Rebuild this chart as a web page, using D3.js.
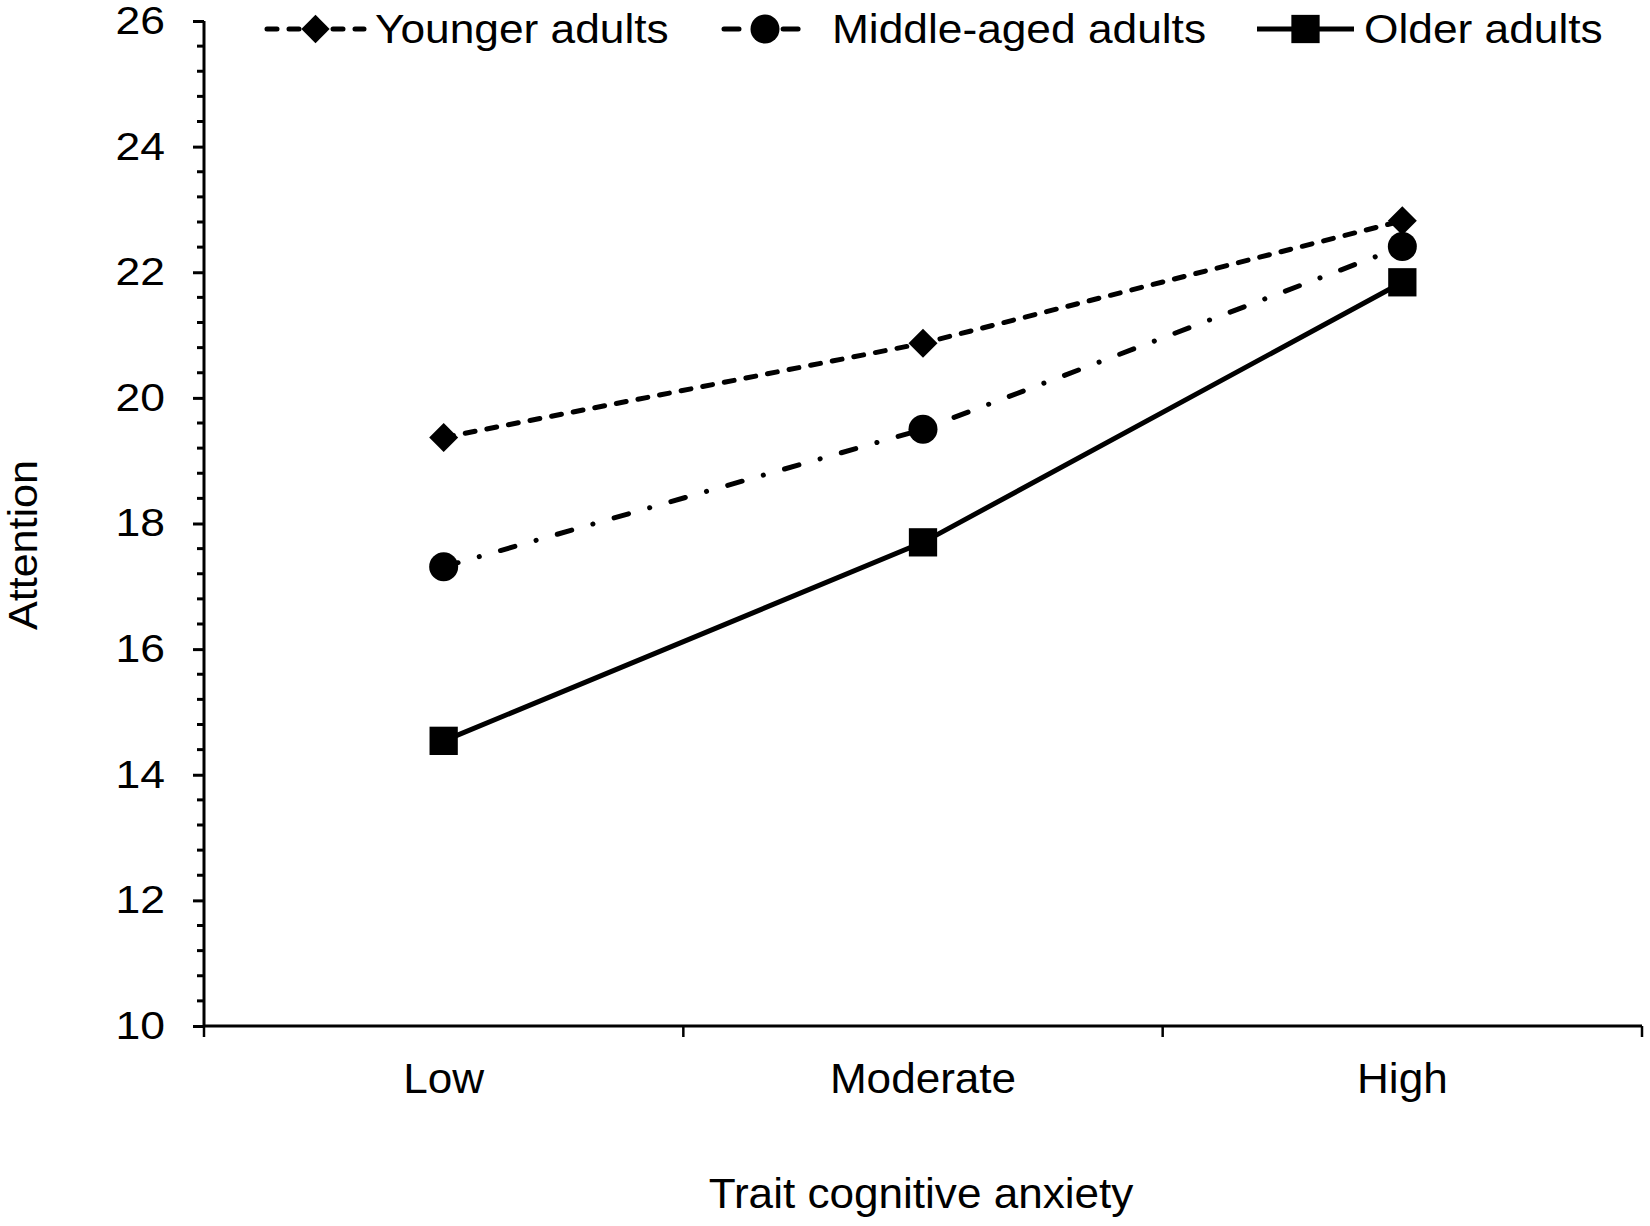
<!DOCTYPE html>
<html>
<head>
<meta charset="utf-8">
<script src="https://cdn.jsdelivr.net/npm/d3@7"></script>
<style>
  html, body { margin: 0; padding: 0; background: #fff; }
  text { font-family: "Liberation Sans", Arial, sans-serif; fill: #000; }
</style>
</head>
<body>
<div id="chart"></div>
<script>
// data
const categories = ['Low', 'Moderate', 'High']
const seriesNames = ['Younger adults', 'Middle-aged adults', 'Older adults']
const younger = [19.37, 20.87, 22.82]
const middleAged = [17.31, 19.50, 22.41]
const older = [14.54, 17.70, 21.84]
const yTicks = [10, 12, 14, 16, 18, 20, 22, 24, 26]

const w = 1650, h = 1226
const margin = { left: 204, right: 8, top: 21, bottom: 200 }
const width = w - margin.left - margin.right
const height = h - margin.top - margin.bottom

// the original lettering is a bit wider than Arial, so stretch it sideways
const tickStretch = 1.14
const labelStretch = 1.05
const legendStretch = 1.08

const series = [
  { name: seriesNames[0], values: younger, dash: '10,12', symbol: 'diamond' },
  { name: seriesNames[1], values: middleAged, dash: '15,22,0.1,22', symbol: 'circle' },
  { name: seriesNames[2], values: older, dash: null, symbol: 'square' }
]

const x = d3.scaleBand()
  .domain(categories)
  .range([0, width])
  .padding(0)

const y = d3.scaleLinear()
  .domain([10, 26])
  .range([height, 0])

const svg = d3.select('#chart').append('svg')
  .attr('width', w)
  .attr('height', h)

const chart = svg.append('g')
  .attr('transform', 'translate(' + margin.left + ',' + margin.top + ')')

// y axis: major ticks every 2, minor every 0.4
const yAxis = chart.append('g')
  .call(d3.axisLeft(y).tickValues(yTicks).tickSize(11).tickPadding(28).tickFormat(d3.format('d')))
yAxis.select('.domain').attr('stroke-width', 3).attr('d', 'M0,' + height + 'V0')
yAxis.selectAll('.tick line').attr('stroke-width', 3)
yAxis.selectAll('.tick text')
  .attr('font-size', 39)
  .attr('font-family', '"Liberation Sans", Arial, sans-serif')
  .attr('x', -39 / tickStretch)
  .attr('transform', 'scale(' + tickStretch + ',1)')

const minor = d3.range(10, 26.01, 0.4).filter(v => Math.abs(v / 2 - Math.round(v / 2)) > 0.01)
chart.append('g').selectAll('line')
  .data(minor)
  .enter()
  .append('line')
  .attr('x1', -7).attr('x2', 0)
  .attr('y1', d => y(d)).attr('y2', d => y(d))
  .attr('stroke', '#000')
  .attr('stroke-width', 3)

// x axis: ticks on category boundaries
const xAxis = chart.append('g')
  .attr('transform', 'translate(0,' + height + ')')
xAxis.append('path')
  .attr('d', 'M0,0H' + width)
  .attr('stroke', '#000')
  .attr('stroke-width', 3)
xAxis.selectAll('line')
  .data([0, 1, 2, 3])
  .enter()
  .append('line')
  .attr('x1', i => i < 3 ? x(categories[i]) : width)
  .attr('x2', i => i < 3 ? x(categories[i]) : width)
  .attr('y1', 0).attr('y2', 11)
  .attr('stroke', '#000')
  .attr('stroke-width', 2.5)
xAxis.selectAll('g.cat')
  .data(categories)
  .enter()
  .append('g')
  .attr('class', 'cat')
  .attr('transform', d => 'translate(' + (x(d) + x.bandwidth() / 2) + ',67) scale(' + labelStretch + ',1)')
  .append('text')
  .attr('text-anchor', 'middle')
  .attr('font-size', 42)
  .text(d => d)

// axis titles
svg.append('g')
  .attr('transform', 'translate(' + (margin.left + width / 2 - 2) + ',1208) scale(' + labelStretch + ',1)')
  .append('text')
  .attr('text-anchor', 'middle')
  .attr('font-size', 42)
  .text('Trait cognitive anxiety')

svg.append('g')
  .attr('transform', 'translate(37,545) rotate(-90) scale(' + labelStretch + ',1)')
  .append('text')
  .attr('text-anchor', 'middle')
  .attr('font-size', 41)
  .text('Attention')

function symbolPath(kind) {
  if (kind === 'circle') return d3.symbol().type(d3.symbolCircle).size(660)()
  if (kind === 'square') return d3.symbol().type(d3.symbolSquare).size(800)()
  return d3.symbol().type(d3.symbolSquare).size(420)()
}

const line = d3.line()
  .x((d, i) => x(categories[i]) + x.bandwidth() / 2)
  .y(d => y(d))

const lines = chart.append('g')
series.forEach(s => {
  lines.append('path')
    .datum(s.values)
    .attr('d', line)
    .attr('fill', 'none')
    .attr('stroke', '#000')
    .attr('stroke-width', 5)
    .attr('stroke-linecap', s.dash ? 'round' : 'butt')
    .attr('stroke-dasharray', s.dash)

  lines.append('g').selectAll('path')
    .data(s.values)
    .enter()
    .append('path')
    .attr('d', symbolPath(s.symbol))
    .attr('transform', (d, i) => 'translate(' + (x(categories[i]) + x.bandwidth() / 2) + ',' + y(d) + ')' + (s.symbol === 'diamond' ? ' rotate(45)' : ''))
    .attr('fill', '#000')
})

// legend
const legendPos = [
  { x1: 267, x2: 364, tx: 375 },
  { x1: 724, x2: 806, tx: 832 },
  { x1: 1257, x2: 1354, tx: 1364 }
]
const legend = svg.append('g')
series.forEach((s, i) => {
  const p = legendPos[i]
  const cy = 29
  legend.append('line')
    .attr('x1', p.x1).attr('x2', p.x2)
    .attr('y1', cy).attr('y2', cy)
    .attr('stroke', '#000')
    .attr('stroke-width', 5)
    .attr('stroke-linecap', s.dash ? 'round' : 'butt')
    .attr('stroke-dasharray', s.dash)
  legend.append('path')
    .attr('d', s.symbol === 'diamond' ? d3.symbol().type(d3.symbolSquare).size(400)() : symbolPath(s.symbol))
    .attr('transform', 'translate(' + (p.x1 + p.x2) / 2 + ',' + cy + ')' + (s.symbol === 'diamond' ? ' rotate(45)' : ''))
    .attr('fill', '#000')
  legend.append('g')
    .attr('transform', 'translate(' + p.tx + ',43) scale(' + legendStretch + ',1)')
    .append('text')
    .attr('font-size', 41)
    .text(s.name)
})
</script>
</body>
</html>
